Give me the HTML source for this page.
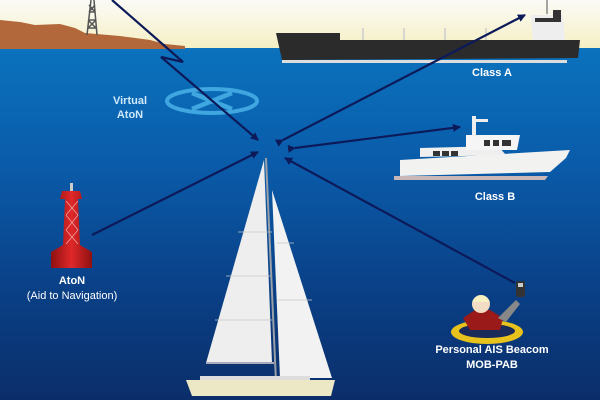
<!DOCTYPE html>
<html><head><meta charset="utf-8"><style>
html,body{margin:0;padding:0;background:#0a3f86}
svg{display:block}
text{font-family:"Liberation Sans",sans-serif;font-weight:bold}
</style></head><body>
<svg width="600" height="400" viewBox="0 0 600 400" xmlns="http://www.w3.org/2000/svg">
<defs>
<linearGradient id="sky" x1="0" y1="0" x2="0" y2="1"><stop offset="0" stop-color="#fbfbf6"/><stop offset="1" stop-color="#f6efc4"/></linearGradient>
<linearGradient id="sea" x1="0" y1="0" x2="0" y2="1"><stop offset="0" stop-color="#0b72bd"/><stop offset="0.35" stop-color="#0a5aa8"/><stop offset="0.7" stop-color="#0a3f85"/><stop offset="1" stop-color="#0b2e6a"/></linearGradient>
<linearGradient id="red" x1="0" y1="0" x2="1" y2="0"><stop offset="0" stop-color="#8e1010"/><stop offset="0.5" stop-color="#e0282a"/><stop offset="1" stop-color="#8e1010"/></linearGradient>
<marker id="ah" markerWidth="8" markerHeight="8" refX="7" refY="4" orient="auto" markerUnits="userSpaceOnUse"><path d="M0,0 L8,4 L0,8 Z" fill="#0d1a5a"/></marker>
</defs>
<rect width="600" height="48" fill="url(#sky)"/>
<rect y="48" width="600" height="352" fill="url(#sea)"/>
<path d="M0,20 L20,22 L35,25 L60,24 L75,28 L85,33 L120,36 L150,40 L165,44 L185,46 L185,49 L0,49 Z" fill="#b2683a"/>
<g stroke="#555" stroke-width="1.5" fill="none"><path d="M87,35 L91,0 M97,35 L94,0 M88,28 L96,20 M88,20 L96,28 M89,12 L95,5 M89,5 L95,12 M88,28 L96,28 M89,20 L95,20 M89,12 L95,12"/></g>
<path d="M276,33 L340,33 L340,40 L580,40 L578,58 L282,60 Z" fill="#2b2b2b"/>
<rect x="282" y="60" width="285" height="3" fill="#ddd"/>
<g stroke="#ccc" stroke-width="1.5"><line x1="363" y1="28" x2="363" y2="40"/><line x1="404" y1="28" x2="404" y2="40"/><line x1="445" y1="28" x2="445" y2="40"/><line x1="486" y1="28" x2="486" y2="40"/></g>
<path d="M531,15 L563,15 L565,40 L533,40 Z" fill="#eee"/>
<rect x="535" y="18" width="26" height="4" fill="#333"/>
<rect x="553" y="10" width="8" height="10" fill="#333"/>
<line x1="547" y1="0" x2="547" y2="14" stroke="#888" stroke-width="1.5"/>
<text x="492" y="76" fill="#fff" font-size="11" text-anchor="middle">Class A</text>
<ellipse cx="212" cy="101" rx="45" ry="12" fill="none" stroke="#3fa6e0" stroke-width="4"/>
<path d="M192,93 L232,109 M232,93 L192,109" stroke="#3fa6e0" stroke-width="4.5"/>
<text x="130" y="104" fill="#cfe9fb" font-size="11" text-anchor="middle">Virtual</text>
<text x="130" y="118" fill="#cfe9fb" font-size="11" text-anchor="middle">AtoN</text>
<path d="M400,160 L570,150 L566,158 L550,172 L400,176 Z" fill="#f2f2f0"/>
<path d="M394,176 L548,176 L545,180 L394,180 Z" fill="#c9b7b7"/>
<path d="M420,148 L498,146 L506,155 L420,157 Z" fill="#efefef"/>
<path d="M466,135 L520,135 L517,150 L466,150 Z" fill="#f5f5f5"/>
<rect x="472" y="116" width="4" height="20" fill="#eee"/>
<rect x="474" y="119" width="14" height="3" fill="#eee"/>
<g fill="#333"><rect x="433" y="151" width="7" height="5"/><rect x="442" y="151" width="7" height="5"/><rect x="451" y="151" width="7" height="5"/><rect x="484" y="140" width="6" height="6"/><rect x="493" y="140" width="6" height="6"/><rect x="502" y="140" width="9" height="6"/></g>
<text x="495" y="200" fill="#fff" font-size="11" text-anchor="middle">Class B</text>
<rect x="70" y="183" width="3" height="8" fill="#ccc"/>
<path d="M62,191 L80,191 L82,199 L78,199 L80,245 L92,252 L92,268 L51,268 L51,252 L63,245 L65,199 L60,199 Z" fill="url(#red)"/>
<g stroke="#f0a0a0" stroke-width="0.8" fill="none"><path d="M66,201 L78,215 M78,201 L66,215 M66,215 L78,230 M78,215 L66,230 M66,230 L78,244 M78,230 L66,244"/></g>
<text x="72" y="284" fill="#fff" font-size="11" text-anchor="middle">AtoN</text>
<text x="72" y="299" fill="#fff" font-size="11" text-anchor="middle" style="font-weight:normal">(Aid to Navigation)</text>
<path d="M264,160 L206,363 L272,363 Z" fill="#eeeeee"/>
<path d="M272,190 L280,378 L332,378 Z" fill="#f2f2f2"/>
<g stroke="#c8c8c8" stroke-width="0.8"><line x1="238" y1="232" x2="272" y2="232"/><line x1="226" y1="276" x2="272" y2="276"/><line x1="215" y1="320" x2="272" y2="320"/><line x1="277" y1="243" x2="294" y2="243"/><line x1="278" y1="300" x2="312" y2="300"/></g>
<line x1="266" y1="158" x2="276" y2="382" stroke="#9aa0a8" stroke-width="2"/>
<line x1="206" y1="363" x2="274" y2="363" stroke="#aab" stroke-width="2"/>
<path d="M186,380 L335,380 L331,396 L192,396 Z" fill="#ece8c6"/>
<rect x="200" y="376" width="110" height="4" fill="#ddd"/>
<ellipse cx="487" cy="332" rx="36" ry="12" fill="#e8c21c"/>
<ellipse cx="487" cy="331" rx="28" ry="7" fill="#1a2b5a"/>
<path d="M463,318 L470,330 L500,330 L503,318 L490,310 L475,310 Z" fill="#9a1a1a"/>
<path d="M498,318 L516,300 L520,304 L506,322 Z" fill="#888"/>
<circle cx="481" cy="304" r="9" fill="#f3dcc4"/>
<path d="M472,302 Q481,288 490,302 Z" fill="#f7f0c0"/>
<rect x="516" y="281" width="9" height="16" rx="2" fill="#333"/>
<rect x="518" y="283" width="5" height="4" fill="#ccc"/>
<text x="492" y="353" fill="#fff" font-size="11" text-anchor="middle">Personal AIS Beacom</text>
<text x="492" y="368" fill="#fff" font-size="11" text-anchor="middle">MOB-PAB</text>
<g stroke="#0d1a5a" stroke-width="2.2" fill="none">
<path d="M112,0 L183,62 L161,57 L258,140" marker-end="url(#ah)"/>
<path d="M283,140 L525,15" marker-end="url(#ah)" marker-start="url(#ah)"/>
<path d="M295,148 L460,127" marker-end="url(#ah)" marker-start="url(#ah)"/>
<path d="M92,235 L258,152" marker-end="url(#ah)"/>
<path d="M515,283 L285,158" marker-end="url(#ah)"/>
</g>
</svg>
</body></html>
